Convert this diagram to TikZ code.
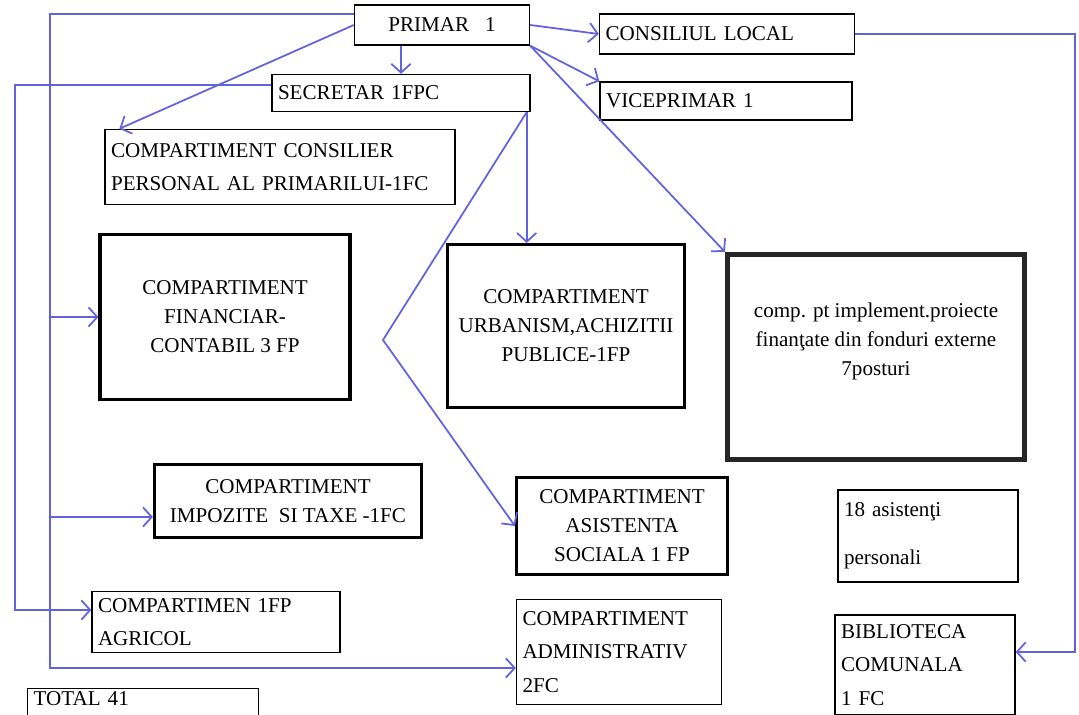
\documentclass[tikz,border=0pt]{standalone}
\usepackage{fontspec}
\setmainfont{Liberation Serif}
\usetikzlibrary{arrows.meta}
\definecolor{linkblue}{RGB}{98,98,222}
\tikzstyle{box}=[draw, line width=0.8pt, inner sep=0.12cm, font=\fontsize{12}{19}\selectfont]
\tikzstyle{leftbox}=[box, align=left]
\tikzstyle{midbox}=[box, align=center, line width=1.8pt, font=\fontsize{12}{16.5}\selectfont]
\tikzstyle{link}=[draw=linkblue, line width=1pt, -{Straight Barb[length=5pt,width=11pt]}]

\begin{document}
\begin{tikzpicture}[x=0.02cm, y=-0.02cm]
            \useasboundingbox (0,0) rectangle (1079,715);
            % top row
            \node [box, align=center, minimum width=3.5cm, minimum height=0.8cm] (primar) at (442,25) {PRIMAR~~~1};
            \node [leftbox, text width=4.86cm, minimum height=0.8cm] (consiliu) at (727,34) {CONSILIUL LOCAL};
            \node [leftbox, text width=4.92cm, minimum height=0.74cm] (secretar) at (401,93) {SECRETAR 1FPC};
            \node [leftbox, text width=4.8cm, minimum height=0.76cm] (vice) at (726,101) {VICEPRIMAR 1};
            \node [leftbox, text width=6.76cm, minimum height=1.5cm] (consilier) at (280,167) {COMPARTIMENT CONSILIER\\PERSONAL AL PRIMARILUI-1FC};
            % compartments
            \node [midbox, minimum width=5cm, minimum height=3.3cm] (financiar) at (225,317) {COMPARTIMENT\\FINANCIAR-\\CONTABIL 3 FP};
            \node [midbox, minimum width=4.74cm, minimum height=3.26cm] (urbanism) at (566,326) {COMPARTIMENT\\URBANISM,ACHIZITII\\PUBLICE-1FP};
            \node [midbox, line width=3pt, draw=black!85, text depth=0.7cm, minimum width=5.94cm, minimum height=4.1cm] (proiecte) at (876,357) {comp. pt implement.proiecte\\finanţate din fonduri externe\\7posturi};
            \node [midbox, minimum width=5.34cm, minimum height=1.46cm] (impozite) at (288,501) {COMPARTIMENT\\IMPOZITE~~SI TAXE -1FC};
            \node [midbox, minimum width=4.22cm, minimum height=1.94cm] (asistenta) at (622,526) {COMPARTIMENT\\ASISTENTA\\SOCIALA 1 FP};
            \node [leftbox, text width=3.36cm, minimum height=1.84cm] (asistenti) at (928,536) {18 asistenţi\\[0.3cm]personali};
            \node [leftbox, text width=4.72cm, minimum height=1.22cm] (agricol) at (216,622) {COMPARTIMEN 1FP\\AGRICOL};
            \node [leftbox, text width=3.86cm, minimum height=2.1cm] (admin) at (619,652) {COMPARTIMENT\\ADMINISTRATIV\\2FC};
            \node [leftbox, text width=3.36cm, minimum height=2cm] (biblio) at (925,665) {BIBLIOTECA\\COMUNALA\\1 FC};
            \node [leftbox, anchor=north west, inner ysep=0.05cm, text depth=0.8cm, text width=4.38cm] (total) at (27,688) {TOTAL 41};
            % corners of the long connectors
            \coordinate (ta) at (50,14);
            \coordinate (tb) at (50,668);
            \coordinate (tc) at (15,85);
            \coordinate (td) at (15,610);
            \coordinate (te) at (1075,652);
            \coordinate (ti) at ([yshift=-0.32cm]impozite.west);
            \coordinate (sx) at ([xshift=-0.08cm]secretar.south east);
            \coordinate (kink) at (383,340);
            % connectors
            \draw[link] (primar.south -| secretar.north) -- (secretar.north);
            \draw[link] (primar.west) -- ([xshift=0.3cm]consilier.north west);
            \draw[link] (primar.east) -- (consiliu.west);
            \draw[link] (primar.south east) -- (vice.north west);
            \draw[link] (primar.south east) -- (proiecte.north west);
            \draw[link] (primar.west |- ta) -- (ta) -- (tb) -- (admin.west |- tb);
            \draw[link] (financiar.west -| ta) -- (financiar.west);
            \draw[link] (ti -| ta) -- (ti);
            \draw[link] (secretar.west |- tc) -- (tc) -- (td) -- (agricol.west |- td);
            \draw[link] (consiliu.east) -| (te) -- (biblio.east |- te);
            \draw[link] (sx) -- (sx |- urbanism.north);
            \draw[link] (sx) -- (kink) -- (asistenta.west);
        \end{tikzpicture}
\end{document}
